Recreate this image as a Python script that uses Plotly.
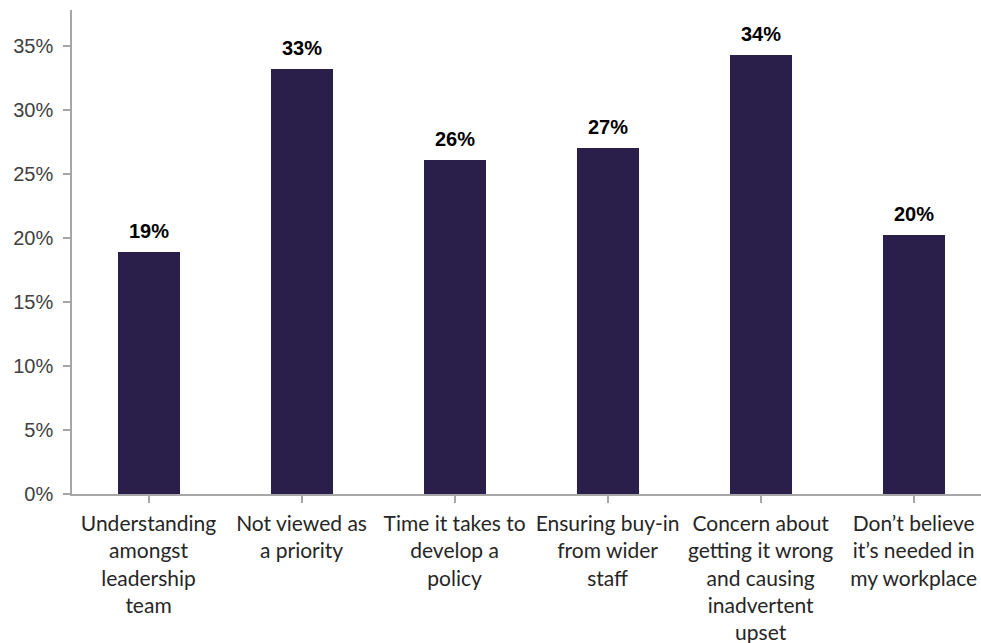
import plotly.graph_objects as go

# Barriers to introducing a workplace policy (share of respondents)
categories = [
    "Understanding<br>amongst<br>leadership<br>team",
    "Not viewed as<br>a priority",
    "Time it takes to<br>develop a<br>policy",
    "Ensuring buy-in<br>from wider<br>staff",
    "Concern about<br>getting it wrong<br>and causing<br>inadvertent<br>upset",
    "Don\u2019t believe<br>it\u2019s needed in<br>my workplace",
]
shares = [0.189, 0.332, 0.261, 0.270, 0.343, 0.202]
y_ticks = [0, 0.05, 0.10, 0.15, 0.20, 0.25, 0.30, 0.35]
y_tick_labels = ["0%", "5%", "10%", "15%", "20%", "25%", "30%", "35%"]

BAR = "#2A1F4B"
AXIS = "#A6A6A6"

fig = go.Figure(
    go.Bar(
        x=list(range(len(categories))),
        y=shares,
        width=0.405,
        marker=dict(color=BAR, line=dict(width=0)),
        hoverinfo="skip",
    )
)

# value labels above each bar
for i, v in enumerate(shares):
    fig.add_annotation(
        x=i, y=v, xref="x", yref="y",
        text=f"<b>{round(v * 100)}%</b>",
        showarrow=False, yanchor="bottom", yshift=8,
        font=dict(family="Liberation Sans, Arial, sans-serif", size=20, color="#000000"),
    )

fig.update_layout(
    width=981, height=643,
    margin=dict(l=72, r=0, t=10, b=149),
    paper_bgcolor="white", plot_bgcolor="white",
    showlegend=False,
    bargap=0,
)
fig.update_xaxes(
    range=[-0.5, 5.44],
    tickmode="array",
    tickvals=list(range(len(categories))),
    ticktext=categories,
    tickson="boundaries",
    ticks="outside", ticklen=7, tickcolor=AXIS, tickwidth=1.5,
    showline=True, linecolor=AXIS, linewidth=1.5,
    showgrid=False, zeroline=False,
    tickangle=0,
    ticklabelstandoff=3,
    tickfont=dict(family="Lato, sans-serif", size=21, color="#262626"),
)
fig.update_yaxes(
    range=[0, 0.378],
    tickmode="array", tickvals=y_ticks, ticktext=y_tick_labels,
    ticks="outside", ticklen=7, tickcolor=AXIS, tickwidth=1.5,
    showline=True, linecolor=AXIS, linewidth=1.5,
    showgrid=False, zeroline=False,
    ticklabelstandoff=6,
    tickfont=dict(family="Liberation Sans, Arial, sans-serif", size=20, color="#404040"),
)

fig.write_html("out.html")
